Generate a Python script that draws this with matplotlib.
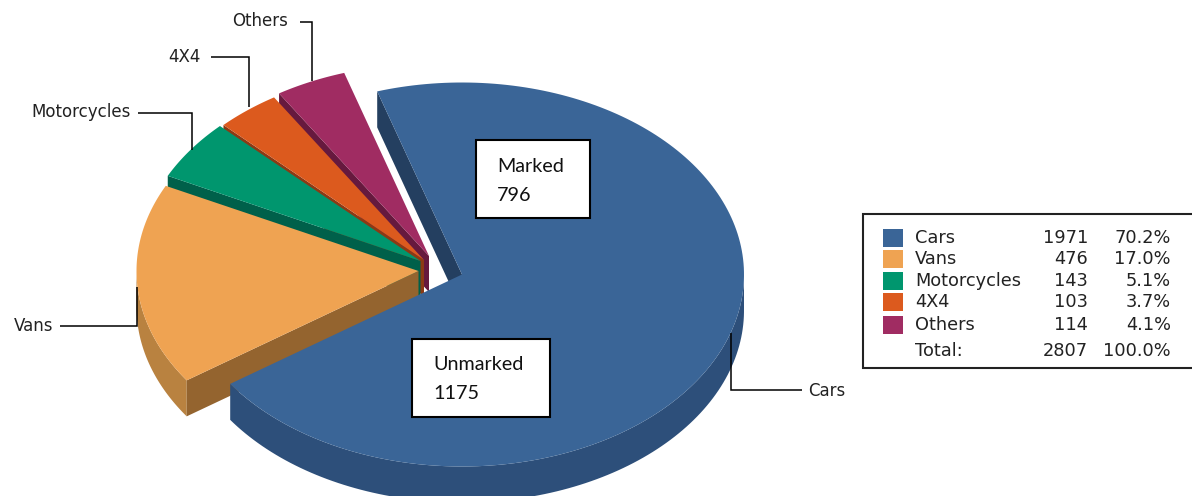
import numpy as np
import matplotlib
matplotlib.use("Agg")
import matplotlib.pyplot as plt
from matplotlib.patches import Polygon, Rectangle

# chart values
categories = ["Cars", "Vans", "Motorcycles", "4X4", "Others"]
counts = [1971, 476, 143, 103, 114]
percents = ["70.2%", "17.0%", "5.1%", "3.7%", "4.1%"]
total_count = "2807"
total_percent = "100.0%"
marked_label = "Marked\n796"
unmarked_label = "Unmarked\n1175"

# colours per slice: top, cut face, outer wall
top_colors = ["#3a6597", "#efa352", "#00966e", "#dc5a1e", "#a02c62"]
cut_colors = ["#243f60", "#94642f", "#00604a", "#8c3a14", "#66193e"]
wall_colors = ["#2d4f7a", "#b98240", "#00604a", "#8c3a14", "#66193e"]

# pie geometry in pixels, each slice is pulled out a bit differently
centers = {"Cars": (462, 274.5), "Vans": (418.5, 271), "Motorcycles": (420.5, 261),
           "4X4": (424, 260), "Others": (429, 256)}
RX, RY = 282, 192
DEPTH = 36
START_ANGLE = 107.5

TEXT_COLOR = "#222222"
plt.rcParams["font.family"] = ["DejaVu Sans"]

fig = plt.figure(figsize=(11.92, 4.96), dpi=100)
ax = fig.add_axes([0, 0, 1, 1])
ax.set_xlim(0, 1192)
ax.set_ylim(496, 0)
ax.axis("off")


def ellipse_xy(center, angles):
    rad = np.radians(angles)
    return center[0] + RX * np.cos(rad), center[1] - RY * np.sin(rad)


# angle range of each slice, going clockwise from the start angle
spans = np.array(counts) / sum(counts) * 360
ends = START_ANGLE - np.cumsum(spans)
starts = ends + spans

# back to front: Others, 4X4, Motorcycles, Vans, Cars
for i in range(len(categories) - 1, -1, -1):
    c = centers[categories[i]]
    angles = np.linspace(ends[i], starts[i], 200)
    xs, ys = ellipse_xy(c, angles)

    # outer wall, only the part facing the viewer
    mask = np.sin(np.radians(angles)) < 0
    if mask.any():
        wx, wy = xs[mask], ys[mask]
        pts = np.vstack([np.column_stack([wx, wy]),
                         np.column_stack([wx[::-1], wy[::-1] + DEPTH])])
        ax.add_patch(Polygon(pts, closed=True, fc=wall_colors[i], ec="none", zorder=2))

    # cut face on the counter clockwise edge
    ex, ey = xs[-1], ys[-1]
    face = [(c[0], c[1]), (ex, ey), (ex, ey + DEPTH), (c[0], c[1] + DEPTH)]
    ax.add_patch(Polygon(face, closed=True, fc=cut_colors[i], ec="none", zorder=2))

    # top surface
    top = np.vstack([[c], np.column_stack([xs, ys])])
    ax.add_patch(Polygon(top, closed=True, fc=top_colors[i], ec="none", zorder=2))

# leader lines and slice labels
leader_x = {"Others": [300, 312, 312], "4X4": [211, 249, 249], "Motorcycles": [138, 192, 192],
            "Vans": [60, 137, 137], "Cars": [802, 731, 731]}
leader_y = {"Others": [22, 22, 81], "4X4": [57, 57, 107], "Motorcycles": [113, 113, 150],
            "Vans": [326, 326, 287], "Cars": [390, 390, 333]}
label_pos = {"Others": (288, 21, "right"), "4X4": (201, 57, "right"),
             "Motorcycles": (131, 112, "right"), "Vans": (53, 326, "right"),
             "Cars": (808, 391, "left")}
for i, name in enumerate(categories):
    ax.plot(leader_x[name], leader_y[name], color="black", lw=1.1, zorder=3,
            solid_joinstyle="miter", solid_capstyle="butt")
    x, y, ha = label_pos[name]
    ax.text(x, y, name, ha=ha, va="center", fontsize=12, color=TEXT_COLOR, zorder=4)

# the two white annotation boxes
ax.add_patch(Rectangle((476, 140), 114, 78, fc="white", ec="black", lw=1.5, zorder=5))
ax.text(497, 181, marked_label, ha="left", va="center", fontsize=14.2, family="Lato",
        color="#111111", linespacing=1.9, zorder=6)
ax.add_patch(Rectangle((412, 339), 138, 78, fc="white", ec="black", lw=1.5, zorder=5))
ax.text(433, 379, unmarked_label, ha="left", va="center", fontsize=14.2, family="Lato",
        color="#111111", linespacing=1.8, zorder=6)

# legend table
ax.add_patch(Rectangle((863, 214), 340, 154, fc="white", ec="#222222", lw=1.5, zorder=5))
row_y = [238, 259, 281, 302, 325]
for i, name in enumerate(categories):
    y = row_y[i]
    ax.add_patch(Rectangle((883, y - 9), 20, 18, fc=top_colors[i], ec="none", zorder=6))
    ax.text(915, y, name, ha="left", va="center", fontsize=12.8, color=TEXT_COLOR, zorder=6)
    ax.text(1088, y, str(counts[i]), ha="right", va="center", fontsize=12.8, color=TEXT_COLOR, zorder=6)
    ax.text(1171, y, percents[i], ha="right", va="center", fontsize=12.8, color=TEXT_COLOR, zorder=6)
ax.text(915, 351, "Total:", ha="left", va="center", fontsize=12.8, color=TEXT_COLOR, zorder=6)
ax.text(1088, 351, total_count, ha="right", va="center", fontsize=12.8, color=TEXT_COLOR, zorder=6)
ax.text(1171, 351, total_percent, ha="right", va="center", fontsize=12.8, color=TEXT_COLOR, zorder=6)

fig.savefig("out.png", dpi=100)
